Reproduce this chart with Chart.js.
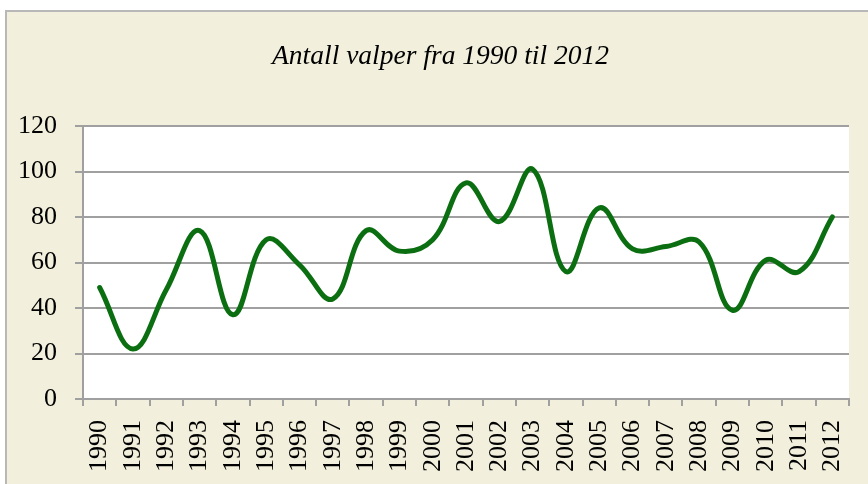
<!DOCTYPE html>
<html>
<head>
<meta charset="utf-8">
<script src="https://cdn.jsdelivr.net/npm/chart.js@4"></script>
<style>
  html, body { margin: 0; padding: 0; background: #fff; width: 868px; height: 484px; overflow: hidden; }
  #frame { position: absolute; left: 5px; top: 10px; width: 900px; height: 500px;
           background: #f2f0dc; border-left: 2px solid #b8b8b8; border-top: 2px solid #b8b8b8; }
  #wrap { position: absolute; left: 0; top: 0; width: 868px; height: 484px; }
</style>
</head>
<body>
<div id="frame"></div>
<div id="wrap"><canvas id="c" width="868" height="484"></canvas></div>
<script>
const years = ['1990','1991','1992','1993','1994','1995','1996','1997','1998','1999','2000',
               '2001','2002','2003','2004','2005','2006','2007','2008','2009','2010','2011','2012'];
const valper = [49, 22, 48, 74, 37, 70, 59, 44, 74, 65, 70,
                95, 78, 101, 56, 84, 66, 67, 69, 39, 61, 56, 80];
const yTicks = [0, 20, 40, 60, 80, 100, 120];

const plotBg = {
    id: 'plotBg',
    afterLayout(chart) {
        // the original title sits a bit right of the canvas centre
        const t = chart.titleBlock;
        if (t) { t.left += 16; t.right += 16; }
    },
    beforeDraw(chart) {
        const a = chart.chartArea, ctx = chart.ctx;
        ctx.save();
        ctx.fillStyle = '#ffffff';
        ctx.fillRect(a.left, a.top, a.right - a.left, a.bottom - a.top);
        ctx.restore();
    }
};

const serif = 'Liberation Serif, DejaVu Serif, serif';

new Chart(document.getElementById('c'), {
    type: 'line',
    data: {
        labels: years,
        datasets: [{
            label: 'Antall valper',
            data: valper,
            borderColor: '#0b6f12',
            borderWidth: 5,
            borderCapStyle: 'round',
            pointRadius: 0,
            tension: 0.4,
            fill: false
        }]
    },
    options: {
        responsive: false,
        animation: false,
        layout: { padding: { left: 0, right: 19, top: 0, bottom: 0 } },
        plugins: {
            legend: { display: false },
            tooltip: { enabled: false },
            title: {
                display: true,
                text: 'Antall valper fra 1990 til 2012',
                color: '#000',
                font: { family: serif, size: 27.5, style: 'italic', weight: 'normal', lineHeight: 1.2 },
                padding: { top: 40.5, bottom: 52.5 }
            }
        },
        scales: {
            x: {
                offset: true,
                grid: { offset: true, drawOnChartArea: false, tickLength: 7, color: '#a0a0a0', lineWidth: 2 },
                border: { color: '#a0a0a0', width: 2 },
                ticks: { color: '#000', font: { family: serif, size: 26 }, maxRotation: 90, minRotation: 90, padding: 14, autoSkip: false },
                afterFit(s) { s.height = 85; s.paddingLeft = 0; s.paddingRight = 0; }
            },
            y: {
                min: 0,
                max: 120,
                afterBuildTicks(s) { s.ticks = yTicks.map(v => ({ value: v })); },
                grid: { color: '#a0a0a0', lineWidth: 2, tickLength: 8 },
                border: { color: '#a0a0a0', width: 2 },
                ticks: { color: '#000', font: { family: serif, size: 26 }, padding: 18 },
                afterFit(s) { s.width = 83; }
            }
        }
    },
    plugins: [plotBg]
});
</script>
</body>
</html>
